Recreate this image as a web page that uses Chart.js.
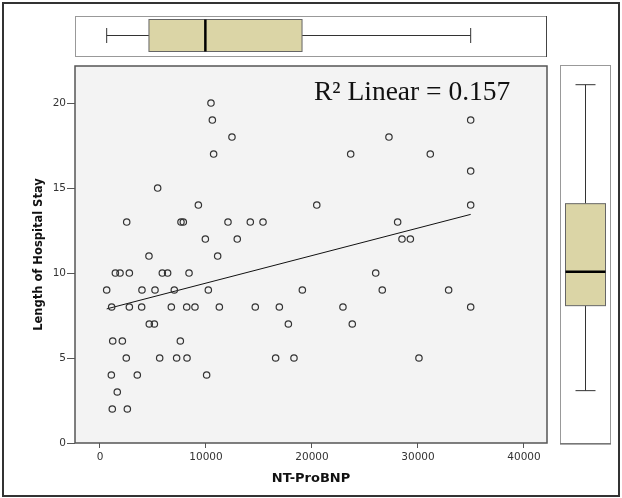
<!DOCTYPE html>
<html>
<head>
<meta charset="utf-8">
<script src="https://cdn.jsdelivr.net/npm/chart.js@4.4.1/dist/chart.umd.min.js"></script>
<style>
  html, body { margin: 0; padding: 0; background: #fff; }
  canvas { display: block; }
</style>
</head>
<body>
<canvas id="chart" width="622" height="498"></canvas>
<script>
// NT-ProBNP (x) and length of stay (y), one entry per patient
const ntProBnp = [
  10470,
  10600, 34970,
  12450, 27260,
  10720, 23650, 31160,
  34970,
  5440,
  9280, 20450, 34970,
  2520, 7640, 7860, 12075, 14180, 15380, 28080,
  9940, 12950, 28490, 29280,
  4620, 11100,
  1450, 1890, 2770, 5880, 6380, 8400, 26010,
  630, 3960, 5190, 7010, 10220, 19090, 26630, 32890,
  1100, 2770, 3930, 6730, 8180, 8960, 11260, 14650, 16920, 22920, 34970,
  4650, 5130, 17770, 23800,
  1200, 2110, 7580,
  2480, 5630, 7230, 8210, 16570, 18300, 30090,
  1070, 3520, 10060,
  1630,
  1160, 2580
];
const hospitalStay = [
  20,
  19, 19,
  18, 18,
  17, 17, 17,
  16,
  15,
  14, 14, 14,
  13, 13, 13, 13, 13, 13, 13,
  12, 12, 12, 12,
  11, 11,
  10, 10, 10, 10, 10, 10, 10,
  9, 9, 9, 9, 9, 9, 9, 9,
  8, 8, 8, 8, 8, 8, 8, 8, 8, 8, 8,
  7, 7, 7, 7,
  6, 6, 6,
  5, 5, 5, 5, 5, 5, 5,
  4, 4, 4,
  3,
  2, 2
];

// linear fit line end points
const fitX = [630, 34970];
const fitY = [7.89, 13.45];
const r2Label = 'R\u00B2 Linear = 0.157';

// marginal boxplots: min, q1, median, q3, max
const xBoxStats = [630, 4620, 9940, 19060, 34970];
const yBoxStats = [2, 7, 9, 13, 20];

const xTicks = [0, 10000, 20000, 30000, 40000];
const yTicks = [0, 5, 10, 15, 20];

const points = ntProBnp.map((x, i) => ({ x: x, y: hospitalStay[i] }));
const fitLine = fitX.map((x, i) => ({ x: x, y: fitY[i] }));

const BOX_FILL = '#dbd5a6';

function drawHBox(ctx, scale, s, top, bottom) {
  const p = s.map(v => scale.getPixelForValue(v));
  const mid = (top + bottom) / 2;
  ctx.strokeStyle = '#333';
  ctx.lineWidth = 1;
  ctx.beginPath();
  ctx.moveTo(p[0], mid); ctx.lineTo(p[1], mid);
  ctx.moveTo(p[3], mid); ctx.lineTo(p[4], mid);
  ctx.moveTo(p[0], mid - 7.5); ctx.lineTo(p[0], mid + 7.5);
  ctx.moveTo(p[4], mid - 7.5); ctx.lineTo(p[4], mid + 7.5);
  ctx.stroke();
  ctx.fillStyle = BOX_FILL;
  ctx.fillRect(p[1], top, p[3] - p[1], bottom - top);
  ctx.strokeStyle = '#666';
  ctx.strokeRect(p[1], top, p[3] - p[1], bottom - top);
  ctx.strokeStyle = '#000';
  ctx.lineWidth = 2.5;
  ctx.beginPath();
  ctx.moveTo(p[2], top); ctx.lineTo(p[2], bottom);
  ctx.stroke();
}

function drawVBox(ctx, scale, s, left, right) {
  const p = s.map(v => scale.getPixelForValue(v));
  const mid = (left + right) / 2;
  ctx.strokeStyle = '#333';
  ctx.lineWidth = 1;
  ctx.beginPath();
  ctx.moveTo(mid, p[0]); ctx.lineTo(mid, p[1]);
  ctx.moveTo(mid, p[3]); ctx.lineTo(mid, p[4]);
  ctx.moveTo(mid - 10, p[0]); ctx.lineTo(mid + 10, p[0]);
  ctx.moveTo(mid - 10, p[4]); ctx.lineTo(mid + 10, p[4]);
  ctx.stroke();
  ctx.fillStyle = BOX_FILL;
  ctx.fillRect(left, p[3], right - left, p[1] - p[3]);
  ctx.strokeStyle = '#666';
  ctx.strokeRect(left, p[3], right - left, p[1] - p[3]);
  ctx.strokeStyle = '#000';
  ctx.lineWidth = 2.5;
  ctx.beginPath();
  ctx.moveTo(left, p[2]); ctx.lineTo(right, p[2]);
  ctx.stroke();
}

const panels = {
  id: 'panels',
  beforeDraw(chart) {
    const ctx = chart.ctx;
    const a = chart.chartArea;
    ctx.save();
    ctx.fillStyle = '#fff';
    ctx.fillRect(0, 0, chart.width, chart.height);
    ctx.fillStyle = '#f3f3f3';
    ctx.fillRect(a.left, a.top, a.right - a.left, a.bottom - a.top);
    ctx.restore();
  },
  afterDraw(chart) {
    const ctx = chart.ctx;
    const a = chart.chartArea;
    ctx.save();

    // frame of scatter area
    ctx.strokeStyle = '#555';
    ctx.lineWidth = 1.5;
    ctx.strokeRect(a.left, a.top, a.right - a.left, a.bottom - a.top);

    // top marginal panel
    const tTop = 16, tBot = 56;
    ctx.fillStyle = '#fff';
    ctx.fillRect(a.left, tTop, a.right - a.left, tBot - tTop);
    ctx.strokeStyle = '#999';
    ctx.lineWidth = 1;
    ctx.strokeRect(a.left + 0.5, tTop + 0.5, a.right - a.left - 1, tBot - tTop);
    ctx.strokeStyle = '#444';
    ctx.beginPath();
    ctx.moveTo(a.right - 0.5, tTop); ctx.lineTo(a.right - 0.5, tBot + 1);
    ctx.stroke();
    drawHBox(ctx, chart.scales.x, xBoxStats, 19.5, 51.5);

    // right marginal panel
    const rLeft = 560, rRight = 610;
    ctx.fillStyle = '#fff';
    ctx.fillRect(rLeft, a.top, rRight - rLeft, a.bottom - a.top);
    ctx.strokeStyle = '#999';
    ctx.lineWidth = 1;
    ctx.strokeRect(rLeft + 0.5, a.top - 0.5, rRight - rLeft, a.bottom - a.top + 1);
    ctx.strokeStyle = '#555';
    ctx.beginPath();
    ctx.moveTo(rLeft, a.bottom + 1); ctx.lineTo(rRight + 1, a.bottom + 1);
    ctx.stroke();
    drawVBox(ctx, chart.scales.yBox, yBoxStats, 565.5, 605.5);

    // R squared label
    ctx.fillStyle = '#111';
    ctx.font = "27.5px 'Liberation Serif'";
    ctx.textAlign = 'left';
    ctx.textBaseline = 'alphabetic';
    ctx.fillText(r2Label, 314, 100);

    // outer frame
    ctx.strokeStyle = '#333';
    ctx.lineWidth = 2;
    ctx.strokeRect(3, 3, chart.width - 6, chart.height - 5);
    ctx.restore();
  }
};

const tickFont = { family: 'DejaVu Sans', size: 10.5 };

new Chart(document.getElementById('chart'), {
  data: {
    datasets: [
      {
        type: 'scatter',
        data: points,
        pointRadius: 3.2,
        pointBorderWidth: 1.2,
        pointBorderColor: '#333',
        pointBackgroundColor: 'rgba(0,0,0,0)',
        yAxisID: 'y'
      },
      {
        type: 'line',
        data: fitLine,
        borderColor: '#111',
        borderWidth: 1,
        pointRadius: 0,
        fill: false,
        yAxisID: 'y'
      }
    ]
  },
  options: {
    responsive: false,
    animation: false,
    devicePixelRatio: 1,
    layout: { padding: { top: 66, right: 75, left: 0, bottom: 0 } },
    plugins: {
      legend: { display: false },
      tooltip: { enabled: false }
    },
    scales: {
      x: {
        type: 'linear',
        position: 'bottom',
        min: -2358,
        max: 42170,
        afterBuildTicks: axis => { axis.ticks = xTicks.map(v => ({ value: v })); },
        afterFit: scale => { scale.height = 55; },
        grid: { drawOnChartArea: false, tickLength: 5, color: '#555' },
        border: { display: false },
        ticks: {
          font: tickFont,
          color: '#333',
          padding: 3,
          maxRotation: 0,
          callback: v => String(v)
        },
        title: {
          display: true,
          text: 'NT-ProBNP',
          color: '#111',
          font: { family: 'DejaVu Sans', size: 13, weight: 'bold' },
          padding: { top: 0, bottom: 12 }
        }
      },
      y: {
        type: 'linear',
        position: 'left',
        min: 0,
        max: 22.18,
        afterBuildTicks: axis => { axis.ticks = yTicks.map(v => ({ value: v })); },
        afterFit: scale => { scale.width = 75; },
        grid: { drawOnChartArea: false, tickLength: 8, color: '#555' },
        border: { display: false },
        ticks: {
          font: tickFont,
          color: '#333',
          padding: 1,
          callback: v => String(v)
        },
        title: {
          display: true,
          text: 'Length of Hospital Stay',
          color: '#111',
          font: { family: 'DejaVu Sans', size: 11.5, weight: 'bold' },
          padding: { top: 32, bottom: 0 }
        }
      },
      yBox: {
        type: 'linear',
        display: false,
        min: -1.08,
        max: 21.1
      }
    }
  },
  plugins: [panels]
});
</script>
</body>
</html>
